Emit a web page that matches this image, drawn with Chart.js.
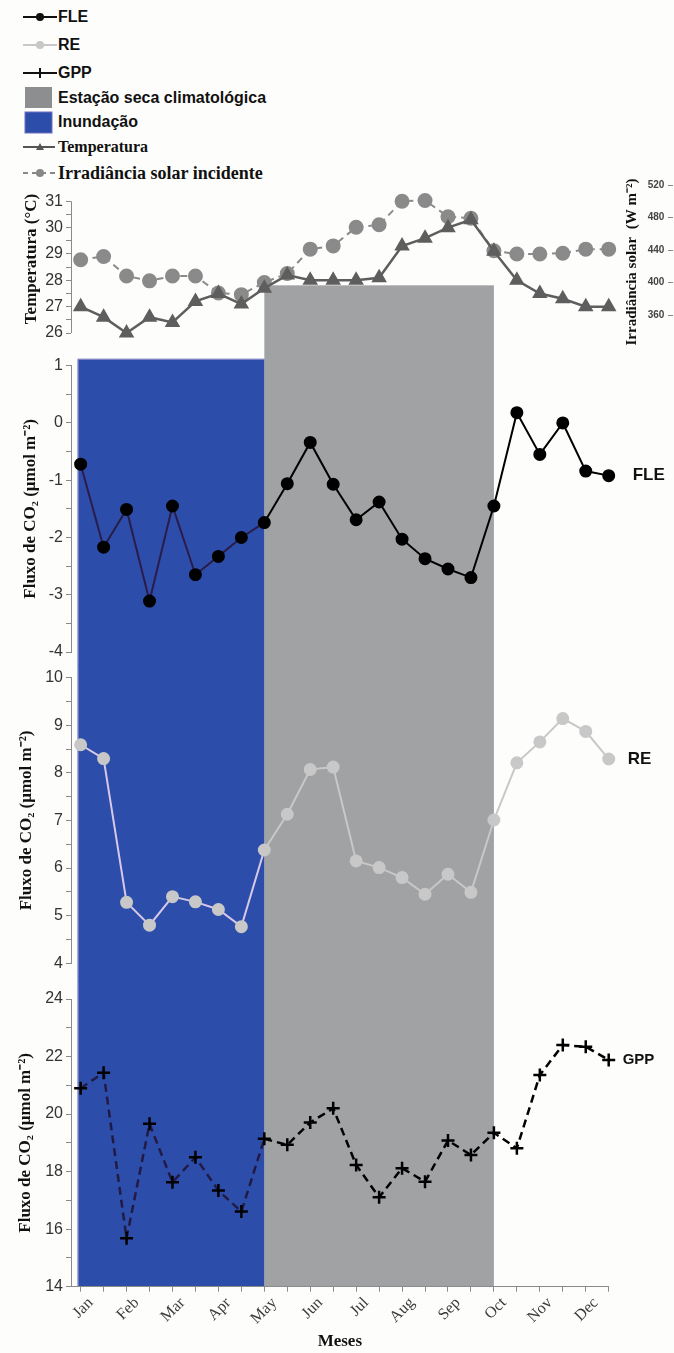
<!DOCTYPE html>
<html>
<head>
<meta charset="utf-8">
<script src="https://cdn.jsdelivr.net/npm/chart.js@4"></script>
<style>
  body { margin: 0; background: #fdfdfb; }
  #wrap { position: relative; width: 674px; height: 1353px; overflow: hidden; }
  #wrap canvas { position: absolute; left: 0; }
  .lg { position: absolute; left: 58px; line-height: 20px; white-space: nowrap; color: #111; }
  .sans { font-family: "Liberation Sans", Arial, sans-serif; font-weight: bold; font-size: 16px; }
  .serif { font-family: "Liberation Serif", "Times New Roman", serif; font-weight: bold; }
  #icons { position: absolute; left: 0; top: 0; }
</style>
</head>
<body>
<div id="wrap">
  <svg id="icons" width="60" height="190">
    <line x1="23" y1="17" x2="57" y2="17" stroke="#111" stroke-width="2"/>
    <circle cx="40" cy="17" r="4" fill="#111"/>
    <line x1="23" y1="45" x2="57" y2="45" stroke="#c8c8c8" stroke-width="2"/>
    <circle cx="40" cy="45" r="4" fill="#c8c8c8"/>
    <line x1="23" y1="73" x2="57" y2="73" stroke="#111" stroke-width="2"/>
    <line x1="40" y1="68" x2="40" y2="78" stroke="#111" stroke-width="2"/>
    <rect x="25" y="87" width="27" height="21" fill="#8c8e90"/>
    <rect x="25" y="112" width="27" height="21" fill="#2c4eaa" stroke="#6f6fc0" stroke-width="1"/>
    <line x1="23" y1="147" x2="55" y2="147" stroke="#555" stroke-width="2"/>
    <polygon points="36,150 44,150 40,143" fill="#555"/>
    <line x1="23" y1="173" x2="57" y2="173" stroke="#888" stroke-width="2" stroke-dasharray="5,4"/>
    <circle cx="40" cy="173" r="4" fill="#888"/>
  </svg>
  <div class="lg sans" style="top:7px">FLE</div>
  <div class="lg sans" style="top:35px">RE</div>
  <div class="lg sans" style="top:63px">GPP</div>
  <div class="lg sans" style="top:88px">Estação seca climatológica</div>
  <div class="lg sans" style="top:112px">Inundação</div>
  <div class="lg serif" style="top:137px; font-size:16px">Temperatura</div>
  <div class="lg serif" style="top:163px; font-size:18px">Irradiância solar incidente</div>

  <canvas id="cT" width="674" height="190" style="top:160px"></canvas>
  <canvas id="cF" width="674" height="315" style="top:350px"></canvas>
  <canvas id="cR" width="674" height="316" style="top:665px"></canvas>
  <canvas id="cG" width="674" height="372" style="top:981px"></canvas>
</div>
<script>
// meses (rótulos a cada 2 pontos quinzenais)
const months = ['Jan', 'Feb', 'Mar', 'Apr', 'May', 'Jun', 'Jul', 'Aug', 'Sep', 'Oct', 'Nov', 'Dec'];

// séries quinzenais (24 pontos)
const temperatura = [27.0, 26.6, 26.0, 26.6, 26.4, 27.2, 27.5, 27.1, 27.7, 28.2, 28.0, 28.0,
                     28.0, 28.1, 29.3, 29.6, 30.0, 30.3, 29.1, 28.0, 27.5, 27.3, 27.0, 27.0];
const irradiancia = [428, 432, 408, 402, 408, 408, 387, 385, 400, 411, 441, 445,
                     468, 471, 500, 501, 481, 479, 439, 435, 435, 436, 441, 441];
const fle = [-0.72, -2.17, -1.51, -3.11, -1.45, -2.65, -2.33, -2.00, -1.74, -1.06, -0.34, -1.07,
             -1.69, -1.38, -2.03, -2.37, -2.55, -2.70, -1.45, 0.18, -0.55, 0.00, -0.84, -0.92];
const re = [8.59, 8.30, 5.28, 4.80, 5.40, 5.29, 5.13, 4.77, 6.38, 7.13, 8.07, 8.12,
            6.15, 6.01, 5.80, 5.45, 5.87, 5.49, 7.01, 8.21, 8.65, 9.14, 8.87, 8.29];
const gpp = [20.90, 21.44, 15.68, 19.66, 17.63, 18.50, 17.34, 16.61, 19.14, 18.93, 19.71, 20.20,
             18.23, 17.11, 18.12, 17.65, 19.08, 18.58, 19.35, 18.81, 21.36, 22.40, 22.34, 21.88];

// períodos (em índice de ponto)
const inundacao = [-0.13, 8];
const estacaoSeca = [8, 18];

// ticks
const tempTicks = [26, 26.5, 27, 27.5, 28, 28.5, 29, 29.5, 30, 30.5, 31];
const irrTicks = [360, 400, 440, 480, 520];
const fleTicks = [-4, -3.5, -3, -2.5, -2, -1.5, -1, -0.5, 0, 0.5, 1];
const reTicks = [4, 4.5, 5, 5.5, 6, 6.5, 7, 7.5, 8, 8.5, 9, 9.5, 10];
const gppTicks = [14, 15, 16, 17, 18, 19, 20, 21, 22, 23, 24];
const xTicks = Array.from({length: 24}, (_, i) => i);

const BLUE = '#2c4eaa', GRAY = '#a0a2a3';
const AXIS = '#8a8a8a';
const pts = arr => arr.map((v, i) => ({x: i, y: v}));

const xBase = () => ({type: 'linear', min: -0.42, max: 23, display: false});

function yAxis(min, max, ticks, title, titlePad, step) {
  return {
    position: 'left', min, max,
    afterFit: s => { s.width = 71; },
    afterBuildTicks: s => { s.ticks = ticks.map(v => ({value: v})); },
    ticks: {
      autoSkip: false, padding: 3, color: '#333',
      font: {family: 'Liberation Sans, Arial, sans-serif', size: 16},
      callback: v => (Math.abs(v / step - Math.round(v / step)) < 1e-6 ? v : '')
    },
    grid: {drawOnChartArea: false, tickLength: 5, color: AXIS},
    border: {color: AXIS},
    title: {
      display: true, text: title, color: '#111',
      font: {family: 'Liberation Serif, Times New Roman, serif', size: 17, weight: 'bold'},
      padding: {top: titlePad, bottom: 0}
    }
  };
}

// faixas sombreadas (estação seca / inundação)
function bandsPlugin(bands, toArea) {
  return {
    id: 'bands',
    beforeDraw(chart) {
      const {ctx, chartArea, scales} = chart;
      const bottom = toArea ? chartArea.bottom : chart.height;
      bands.forEach(b => {
        const x0 = scales.x.getPixelForValue(b.range[0]);
        const x1 = scales.x.getPixelForValue(b.range[1]);
        const top = b.top ? scales[b.top.scale].getPixelForValue(b.top.value) : 0;
        ctx.save();
        ctx.fillStyle = b.color;
        ctx.fillRect(x0, top, x1 - x0, bottom - top);
        if (b.edge) {
          ctx.strokeStyle = b.edge;
          ctx.lineWidth = 1;
          ctx.beginPath();
          ctx.moveTo(x0 + 0.5, bottom);
          ctx.lineTo(x0 + 0.5, top + 0.5);
          if (b.top) ctx.lineTo(x1 - 0.5, top + 0.5);
          ctx.stroke();
        }
        ctx.restore();
      });
    }
  };
}

// rótulo da série no fim da linha
function endLabel(text, size, dx) {
  return {
    id: 'endLabel',
    afterDatasetsDraw(chart) {
      const p = chart.getDatasetMeta(0).data[23];
      const {ctx} = chart;
      ctx.save();
      ctx.font = 'bold ' + size + 'px "Liberation Sans", Arial, sans-serif';
      ctx.fillStyle = '#111';
      ctx.textBaseline = 'middle';
      ctx.fillText(text, p.x + dx, p.y);
      ctx.restore();
    }
  };
}

const tint = (blueCol, baseCol) => ctx => (ctx.p0.parsed.x < inundacao[1] ? blueCol : baseCol);

// ---------- painel superior: temperatura e irradiância ----------
const topExtras = {
  id: 'topExtras',
  afterDraw(chart) {
    const {ctx, chartArea, scales} = chart;
    ctx.save();
    // eixo esquerdo só entre 26 e 31
    ctx.strokeStyle = AXIS; ctx.lineWidth = 1;
    ctx.beginPath();
    ctx.moveTo(chartArea.left + 0.5, scales.y.getPixelForValue(31));
    ctx.lineTo(chartArea.left + 0.5, scales.y.getPixelForValue(26));
    ctx.stroke();
    // marcas do eixo de irradiância
    irrTicks.forEach(v => {
      const y = Math.round(scales.y2.getPixelForValue(v)) + 0.5;
      ctx.beginPath(); ctx.moveTo(668, y); ctx.lineTo(673, y); ctx.stroke();
    });
    // título do eixo direito
    ctx.translate(632, 102);
    ctx.rotate(-Math.PI / 2);
    ctx.fillStyle = '#111';
    ctx.font = 'bold 15px "Liberation Serif", "Times New Roman", serif';
    ctx.textAlign = 'center';
    ctx.textBaseline = 'middle';
    ctx.fillText('Irradiância solar  (W m⁻²)', 0, 0);
    ctx.restore();
  }
};

const yTemp = yAxis(26, 31.62, tempTicks, 'Temperatura (°C)', 21, 1);
yTemp.border = {display: false};

new Chart(document.getElementById('cT'), {
  type: 'line',
  data: {
    datasets: [
      {label: 'Temperatura', data: pts(temperatura), yAxisID: 'y', borderColor: '#5e5e5e',
       backgroundColor: '#5e5e5e', borderWidth: 2.5, pointStyle: 'triangle', pointRadius: 6.5,
       clip: false},
      {label: 'Irradiância solar incidente', data: pts(irradiancia), yAxisID: 'y2',
       borderColor: '#8a8a8a', backgroundColor: '#8a8a8a', borderWidth: 2, borderDash: [7, 5],
       pointRadius: 6.5, clip: false}
    ]
  },
  options: {
    responsive: false, animation: false,
    layout: {padding: {top: 25, bottom: 17, right: 0}},
    plugins: {legend: {display: false}, tooltip: {enabled: false}},
    scales: {
      x: xBase(),
      y: yTemp,
      y2: {
        position: 'right', min: 337.8, max: 520,
        afterFit: s => { s.width = 65.3; s.paddingTop = 0; s.paddingBottom = 0; },
        afterBuildTicks: s => { s.ticks = irrTicks.map(v => ({value: v})); },
        ticks: {padding: 39, color: '#444', font: {family: 'Liberation Sans, Arial, sans-serif', size: 10, weight: 'bold'}},
        grid: {display: false, drawTicks: false},
        border: {display: false}
      }
    }
  },
  plugins: [bandsPlugin([{range: estacaoSeca, color: GRAY, top: {scale: 'y', value: 27.81}}], false), topExtras]
});

// ---------- FLE ----------
new Chart(document.getElementById('cF'), {
  type: 'line',
  data: {
    datasets: [{label: 'FLE', data: pts(fle), borderColor: '#000', backgroundColor: '#000',
      borderWidth: 2, pointRadius: 5.5, clip: false,
      segment: {borderColor: tint('#2a1c48', '#000')}}]
  },
  options: {
    responsive: false, animation: false,
    layout: {padding: {top: 15.7, bottom: 13, right: 65.3}},
    plugins: {legend: {display: false}, tooltip: {enabled: false}},
    scales: {x: xBase(), y: yAxis(-4, 1, fleTicks, 'Fluxo de CO₂ (μmol m⁻²)', 20, 1)}
  },
  plugins: [bandsPlugin([
    {range: estacaoSeca, color: GRAY},
    {range: inundacao, color: BLUE, edge: '#8c8cc8', top: {scale: 'y', value: 1.12}}
  ], false), endLabel('FLE', 17, 24)]
});

// ---------- RE ----------
new Chart(document.getElementById('cR'), {
  type: 'line',
  data: {
    datasets: [{label: 'RE', data: pts(re), borderColor: '#c8c8c8', backgroundColor: '#c8c8c8',
      borderWidth: 2, pointRadius: 5.5, clip: false,
      segment: {borderColor: tint('#d8c8e8', '#c8c8c8')}}]
  },
  options: {
    responsive: false, animation: false,
    layout: {padding: {top: 12.3, bottom: 17.7, right: 65.3}},
    plugins: {legend: {display: false}, tooltip: {enabled: false}},
    scales: {x: xBase(), y: yAxis(4, 10, reTicks, 'Fluxo de CO₂ (μmol m⁻²)', 16, 1)}
  },
  plugins: [bandsPlugin([
    {range: estacaoSeca, color: GRAY},
    {range: inundacao, color: BLUE, edge: '#8c8cc8'}
  ], false), endLabel('RE', 17, 19)]
});

// ---------- GPP ----------
new Chart(document.getElementById('cG'), {
  type: 'line',
  data: {
    datasets: [{label: 'GPP', data: pts(gpp), borderColor: '#000', backgroundColor: '#000',
      borderWidth: 2.5, borderDash: [8, 5], pointStyle: 'cross', pointRadius: 6.5,
      pointBorderWidth: 2.5, clip: false,
      segment: {borderColor: tint('#221a44', '#000')}}]
  },
  options: {
    responsive: false, animation: false,
    layout: {padding: {top: 18, bottom: 0, right: 65.3}},
    plugins: {legend: {display: false}, tooltip: {enabled: false}},
    scales: {
      x: {
        type: 'linear', min: -0.42, max: 23, position: 'bottom',
        afterFit: s => { s.height = 66.3; },
        afterBuildTicks: s => { s.ticks = xTicks.map(v => ({value: v})); },
        ticks: {
          autoSkip: false, minRotation: 45, maxRotation: 45, padding: 2, labelOffset: 10,
          color: '#3a3a3a', font: {family: 'Liberation Serif, Times New Roman, serif', size: 16},
          callback: v => (v % 2 === 0 ? months[v / 2] : '')
        },
        grid: {drawOnChartArea: false, tickLength: 5, color: AXIS},
        border: {color: AXIS},
        title: {display: true, text: 'Meses', color: '#111', padding: {top: 0, bottom: 1},
          font: {family: 'Liberation Serif, Times New Roman, serif', size: 17, weight: 'bold'}}
      },
      y: yAxis(14, 24, gppTicks, 'Fluxo de CO₂ (μmol m⁻²)', 15, 2)
    }
  },
  plugins: [bandsPlugin([
    {range: estacaoSeca, color: GRAY},
    {range: inundacao, color: BLUE, edge: '#8c8cc8'}
  ], true), endLabel('GPP', 15, 14)]
});
</script>
</body>
</html>
